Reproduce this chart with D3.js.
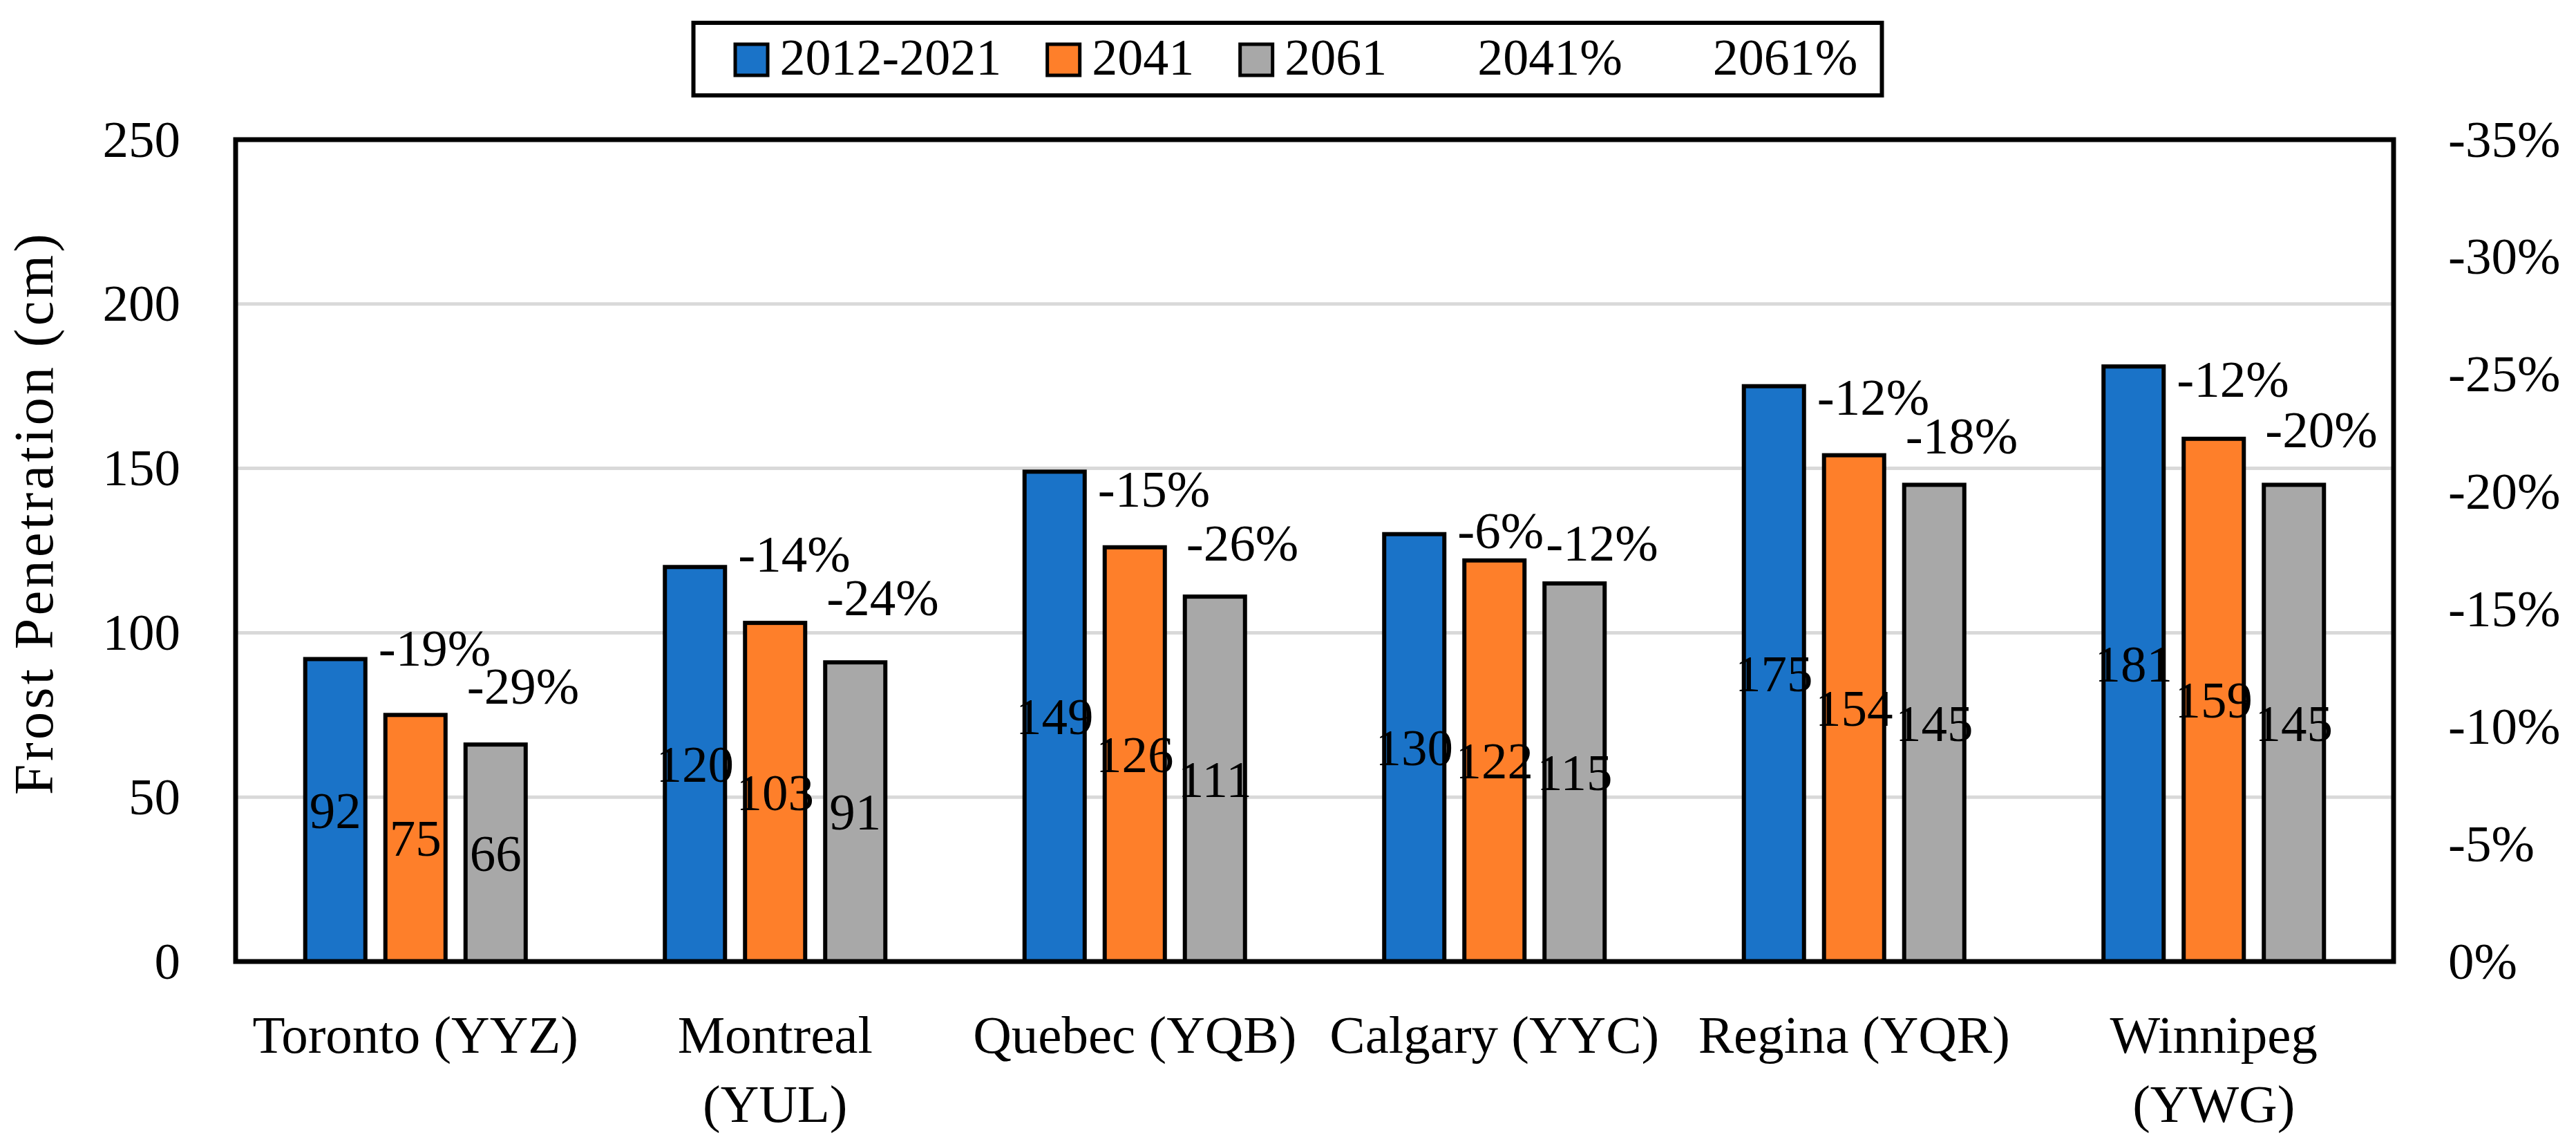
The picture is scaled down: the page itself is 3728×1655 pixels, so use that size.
<!DOCTYPE html>
<html>
<head>
<meta charset="utf-8">
<script src="https://cdn.jsdelivr.net/npm/d3@7"></script>
<style>
  body { margin: 0; background: #fff; }
  text { font-family: "Liberation Serif", "Times New Roman", serif; fill: #000; }
</style>
</head>
<body>
<div id="chart"></div>
<script>
// Data

const cities = ['Toronto (YYZ)', 'Montreal\n(YUL)', 'Quebec (YQB)', 'Calgary (YYC)', 'Regina (YQR)', 'Winnipeg\n(YWG)']
const series = ['2012-2021', '2041', '2061']
const depth2012 = [92, 120, 149, 130, 175, 181]
const depth2041 = [75, 103, 126, 122, 154, 159]
const depth2061 = [66, 91, 111, 115, 145, 145]

// percent change labels (hidden line series) and the level they sit at, in cm
const pct2041 = ['-19%', '-14%', '-15%', '-6%', '-12%', '-12%']
const pct2061 = ['-29%', '-24%', '-26%', '-12%', '-18%', '-20%']
const pct2041At = [90, 118.5, 138.3, 125.7, 166.3, 171.7]
const pct2061At = [78.5, 105.3, 122, 121.9, 154.6, 156.5]

const leftTicks = [0, 50, 100, 150, 200, 250]
const rightTicks = [0, -0.05, -0.10, -0.15, -0.20, -0.25, -0.30, -0.35]

const colors = ['#1a73c8', '#fe7f2a', '#a8a8a8']

const width = 3728
const height = 1655
const plot = { left: 341, right: 3464, top: 202, bottom: 1391 }

const svg = d3.select('#chart')
  .append('svg')
  .attr('width', width)
  .attr('height', height)

// scales
const x0 = d3.scaleBand()
  .domain(cities)
  .range([plot.left, plot.right])

const x1 = d3.scaleBand()
  .domain(series)
  .range([x0.bandwidth() / 2 - 174, x0.bandwidth() / 2 + 174])
  .paddingInner(0.198)
  .paddingOuter(0.099)

const y = d3.scaleLinear()
  .domain([0, 250])
  .range([plot.bottom, plot.top])

const y2 = d3.scaleLinear()
  .domain([0, -0.35])
  .range([plot.bottom, plot.top])

// gridlines
svg.append('g')
  .selectAll('line')
  .data(leftTicks.filter(d => d > 0 && d < 250))
  .enter()
  .append('line')
  .attr('x1', plot.left)
  .attr('x2', plot.right)
  .attr('y1', d => y(d))
  .attr('y2', d => y(d))
  .attr('stroke', '#d9d9d9')
  .attr('stroke-width', 5)

// bars
const rows = cities.map((c, i) => ({
  city: c,
  values: [depth2012[i], depth2041[i], depth2061[i]]
}))

const groups = svg.append('g')
  .selectAll('g')
  .data(rows)
  .enter()
  .append('g')
  .attr('transform', d => 'translate(' + x0(d.city) + ',0)')

groups.selectAll('rect')
  .data(d => d.values.map((v, k) => ({ key: series[k], value: v, k: k })))
  .enter()
  .append('rect')
  .attr('x', d => x1(d.key) + 3)
  .attr('width', x1.bandwidth() - 6)
  .attr('y', d => y(d.value))
  .attr('height', d => y(0) - y(d.value))
  .attr('fill', d => colors[d.k])
  .attr('stroke', '#000')
  .attr('stroke-width', 6)

// value labels in the middle of each bar
groups.selectAll('text.val')
  .data(d => d.values.map((v, k) => ({ key: series[k], value: v })))
  .enter()
  .append('text')
  .attr('class', 'val')
  .attr('x', d => x1(d.key) + x1.bandwidth() / 2)
  .attr('y', d => (y(d.value) + y(0)) / 2)
  .attr('dy', '0.34em')
  .attr('text-anchor', 'middle')
  .style('font-size', '75px')
  .text(d => d.value)

// percent labels to the right of the blue and orange bars
groups.append('text')
  .attr('x', x1('2012-2021') + x1.bandwidth() + 16)
  .attr('y', (d, i) => y(pct2041At[i]))
  .style('font-size', '75px')
  .text((d, i) => pct2041[i])

groups.append('text')
  .attr('x', x1('2041') + x1.bandwidth() + 28)
  .attr('y', (d, i) => y(pct2061At[i]))
  .style('font-size', '75px')
  .text((d, i) => pct2061[i])

// plot frame
svg.append('rect')
  .attr('x', plot.left)
  .attr('y', plot.top)
  .attr('width', plot.right - plot.left)
  .attr('height', plot.bottom - plot.top)
  .attr('fill', 'none')
  .attr('stroke', '#000')
  .attr('stroke-width', 7)

// left axis
const yAxis = d3.axisLeft(y).tickValues(leftTicks).tickSize(0).tickPadding(80)
svg.append('g')
  .attr('transform', 'translate(' + plot.left + ',0)')
  .call(yAxis)
  .call(g => g.select('.domain').remove())
  .selectAll('text')
  .attr('font-family', null)
  .style('font-size', '75px')

// right axis
const y2Axis = d3.axisRight(y2).tickValues(rightTicks).tickSize(0).tickPadding(79)
  .tickFormat(d3.format('.0%'))
svg.append('g')
  .attr('transform', 'translate(' + plot.right + ',0)')
  .call(y2Axis)
  .call(g => g.select('.domain').remove())
  .selectAll('text')
  .attr('font-family', null)
  .style('font-size', '75px')
  .text(d => d3.format('.0%')(d).replace('−', '-'))

// category labels
svg.append('g')
  .selectAll('text')
  .data(cities)
  .enter()
  .append('text')
  .attr('text-anchor', 'middle')
  .attr('transform', d => 'translate(' + (x0(d) + x0.bandwidth() / 2) + ',1523)')
  .style('font-size', '77px')
  .selectAll('tspan')
  .data(d => d.split('\n'))
  .enter()
  .append('tspan')
  .attr('x', 0)
  .attr('y', (d, i) => i * 100)
  .text(d => d)

// y axis title
svg.append('text')
  .attr('transform', 'translate(76,744) rotate(-90)')
  .attr('text-anchor', 'middle')
  .attr('textLength', 812)
  .attr('lengthAdjust', 'spacing')
  .style('font-size', '80px')
  .text('Frost Penetration (cm)')

// legend: three bar swatches, two entries without a marker
const legendNames = ['2012-2021', '2041', '2061', '2041%', '2061%']
const legendColors = [colors[0], colors[1], colors[2], null, null]

const legend = svg.append('g')
let cursor = 0
legendNames.forEach((name, i) => {
  const item = legend.append('g').attr('transform', 'translate(' + cursor + ',0)')
  if (legendColors[i]) {
    item.append('rect')
      .attr('x', 2.5)
      .attr('y', 64)
      .attr('width', 47)
      .attr('height', 45)
      .attr('fill', legendColors[i])
      .attr('stroke', '#000')
      .attr('stroke-width', 5)
  }
  const t = item.append('text')
    .attr('x', 67)
    .attr('y', 108)
    .style('font-size', '74px')
    .text(name)
  cursor += 67 + t.node().getComputedTextLength() + 64
})
const contentWidth = cursor - 64
const legendLeft = 1875 - contentWidth / 2
legend.attr('transform', 'translate(' + legendLeft + ',0)')

svg.insert('rect', 'g')
  .attr('x', legendLeft - 58)
  .attr('y', 33)
  .attr('width', contentWidth + 58 + 35)
  .attr('height', 105)
  .attr('fill', 'none')
  .attr('stroke', '#000')
  .attr('stroke-width', 6)
</script>
</body>
</html>
